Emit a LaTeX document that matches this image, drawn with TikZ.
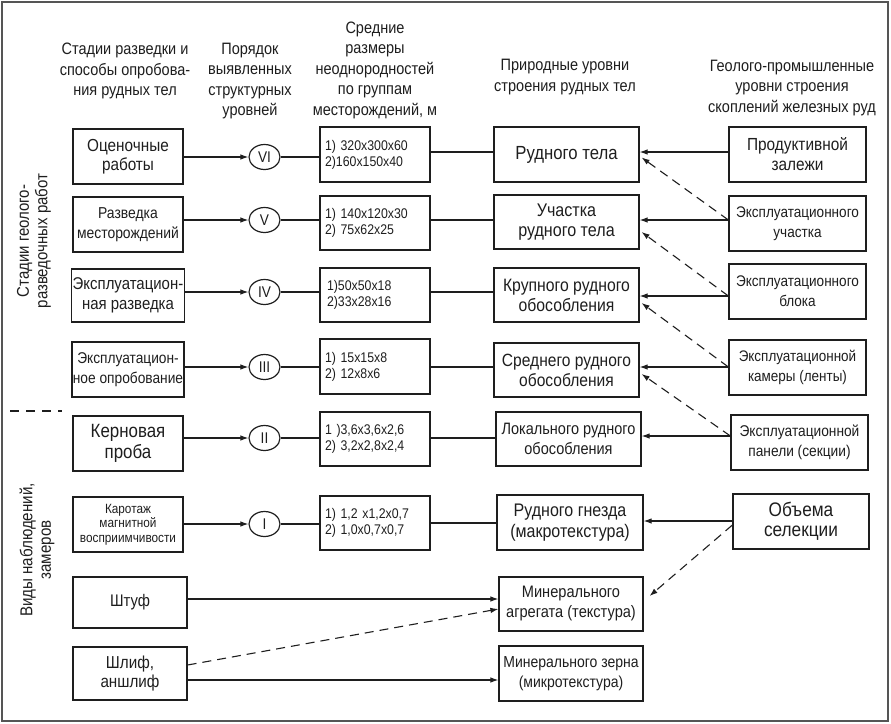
\documentclass[tikz,border=0pt]{standalone}
\usepackage{fontspec}
\setmainfont{Liberation Sans}[FakeStretch=0.88]
\usetikzlibrary{arrows.meta,shapes.geometric,calc}
\definecolor{ink}{RGB}{30,30,30}
\definecolor{framec}{RGB}{85,85,85}
\newcommand{\fs}[2]{\fontsize{#1}{#2}\selectfont}
\begin{document}
\begin{tikzpicture}[x=1pt,y=-1pt,
  every node/.style={text=ink},
  hdr/.style={align=center,font=\fs{16.5}{20.5}},
  box/.style={draw=ink,line width=1.2pt,inner sep=1pt,align=center,font=\fs{17}{19.5}},
  lbox/.style={box,minimum width=110pt,minimum height=55pt},
  sbox/.style={draw=ink,line width=1.2pt,inner xsep=5pt,inner ysep=1pt,text width=100pt,align=left,minimum height=54pt,font=\fs{14}{16}},
  nbox/.style={box,minimum width=145pt,minimum height=54pt},
  rbox/.style={box,minimum width=137pt,minimum height=55pt},
  lvl/.style={draw=ink,line width=1.2pt,ellipse,minimum width=31pt,minimum height=25pt,inner sep=0pt,font=\fs{15.5}{16}},
  ln/.style={draw=ink,line width=1.1pt},
  arr/.style={ln,-{Latex[length=8pt,width=5.5pt]}},
  darr/.style={arr,dash pattern=on 9pt off 6pt},
  dln/.style={ln,dash pattern=on 9pt off 7pt}
]
\useasboundingbox (0,0) rectangle (891,723);
\draw[framec,line width=2.6pt] (2,2) rectangle (888,721);

% headers
\node[hdr] (h1) at (125,71) {Стадии разведки и\\способы опробова-\\ния рудных тел};
\node[hdr] (h2) at (250,81) {Порядок\\выявленных\\структурных\\уровней};
\node[hdr] (h3) at (375,70) {Средние\\размеры\\неоднородностей\\по группам\\месторождений, м};
\node[hdr] (h4) at (565,77) {Природные уровни\\строения рудных тел};
\node[hdr] (h5) at (792,88) {Геолого-промышленные\\уровни строения\\скоплений железных руд};

% side labels
\node[hdr,rotate=90,font=\fs{17}{18.5}] (side1) at (34,241) {Стадии геолого-\\разведочных работ};
\node[hdr,rotate=90,font=\fs{17.2}{18.5}] (side2) at (37,550) {Виды наблюдений,\\замеров};
\coordinate (sepL) at (10,411);
\coordinate (sepR) at (62,411);
\draw[dln] (sepL) -- (sepR);

% left column
\node[lbox,font=\fs{17.4}{19}] (a1) at (128,156.5) {Оценочные\\работы};
\node[lbox,font=\fs{15.8}{20}] (a2) at (128,224.5) {Разведка\\месторождений};
\node[lbox,minimum height=53pt,font=\fs{17}{19.5}] (a3) at (128,295.5) {Эксплуатацион-\\ная разведка};
\node[lbox,font=\fs{15.6}{19.5}] (a4) at (128,369.5) {Эксплуатацион-\\ное опробование};
\node[lbox,font=\fs{19.2}{20.5}] (a5) at (128,443.5) {Керновая\\проба};
\node[lbox,font=\fs{13.4}{14.5}] (a6) at (128,524.5) {Каротаж\\магнитной\\восприимчивости};
\node[lbox,minimum width=114pt,minimum height=51pt,font=\fs{16.8}{20}] (a7) at (130,602.5) {Штуф};
\node[lbox,minimum width=114pt,minimum height=53pt,font=\fs{17.3}{19}] (a8) at (130,673.5) {Шлиф,\\аншлиф};

% level ellipses
\node[lvl] (c6) at (264.5,157) {VI};
\node[lvl] (c5) at (264.5,220) {V};
\node[lvl] (c4) at (264.5,292) {IV};
\node[lvl] (c3) at (264.5,367) {III};
\node[lvl] (c2) at (264.5,438) {II};
\node[lvl] (c1) at (264.5,524) {I};

% size boxes
\node[sbox,minimum height=55pt] (s6) at (375,154.5) {1) 320x300x60\\2)160x150x40};
\node[sbox] (s5) at (375,223) {1) 140x120x30\\2) 75x62x25};
\node[sbox] (s4) at (375,295) {\hspace*{2pt}1)50x50x18\\\hspace*{2pt}2)33x28x16};
\node[sbox,minimum height=55pt] (s3) at (375,366.5) {1) 15x15x8\\2) 12x8x6};
\node[sbox] (s2) at (375,439) {1 )3,6x3,6x2,6\\2) 3,2x2,8x2,4};
\node[sbox] (s1) at (375,523) {1) 1,2 x1,2x0,7\\2) 1,0x0,7x0,7};

% natural levels
\node[nbox,minimum height=55pt,font=\fs{19}{20}] (n6) at (566.5,154.5) {Рудного тела};
\node[nbox,font=\fs{18.3}{20}] (n5) at (566.5,222) {Участка\\рудного тела};
\node[nbox,font=\fs{17.9}{20}] (n4) at (566.5,295) {Крупного рудного\\обособления};
\node[nbox,font=\fs{17.7}{20}] (n3) at (566.5,370) {Среднего рудного\\обособления};
\node[nbox,font=\fs{16.5}{20}] (n2) at (568.5,439) {Локального рудного\\обособления};
\node[nbox,minimum width=146pt,minimum height=55pt,font=\fs{18.2}{20.5}] (n1) at (570,522.5) {Рудного гнезда\\(макротекстура)};
\node[nbox,minimum width=144pt,font=\fs{16.6}{20}] (m2) at (571,604) {Минерального\\агрегата (текстура)};
\node[nbox,minimum width=144pt,minimum height=55pt,font=\fs{15.9}{20}] (m1) at (571,673.5) {Минерального зерна\\(микротекстура)};

% geological-industrial levels
\node[rbox,font=\fs{17.5}{20}] (r6) at (797.5,154.5) {Продуктивной\\залежи};
\node[rbox,font=\fs{15.4}{20}] (r5) at (797.5,223.5) {Эксплуатационного\\участка};
\node[rbox,font=\fs{15.4}{20}] (r4) at (797.5,291.5) {Эксплуатационного\\блока};
\node[rbox,font=\fs{15.3}{20}] (r3) at (797.5,367.5) {Эксплуатационной\\камеры (ленты)};
\node[rbox,font=\fs{15.6}{20}] (r2) at (799.5,442.5) {Эксплуатационной\\панели (секции)};
\node[rbox,minimum width=136pt,font=\fs{19.6}{20.5}] (r1) at (801,521.5) {Объема\\селекции};

% row heights
\coordinate (y6) at (0,152);
\coordinate (y5) at (0,220);
\coordinate (y4) at (0,292);
\coordinate (y4r) at (0,296);
\coordinate (y3) at (0,367);
\coordinate (y2) at (0,438);
\coordinate (y2r) at (0,436);
\coordinate (y1) at (0,523);
\coordinate (y1r) at (0,521);
\coordinate (y1d) at (0,525);
\coordinate (yst) at (0,599);
\coordinate (ysh1) at (0,665);
\coordinate (ysh2) at (0,609);
\coordinate (ysh3) at (0,680);

% left boxes -> levels
\foreach \i in {1,...,6}{
  \draw[arr] (a\i.east |- c\i) -- (c\i.west);
  \draw[ln] (c\i.east) -- (s\i.west |- c\i);
}
% sizes -> natural
\draw[ln] (s6.east |- y6) -- (n6.west |- y6);
\draw[ln] (s5.east |- y5) -- (n5.west |- y5);
\draw[ln] (s4.east |- y4) -- (n4.west |- y4);
\draw[ln] (s3.east |- y3) -- (n3.west |- y3);
\draw[ln] (s2.east |- y2) -- (n2.west |- y2);
\draw[ln] (s1.east |- y1) -- (n1.west |- y1);

% right -> natural (solid)
\draw[arr] (r6.west |- y6) -- (n6.east |- y6);
\draw[arr] (r5.west |- y5) -- (n5.east |- y5);
\draw[arr] (r4.west |- y4r) -- (n4.east |- y4r);
\draw[arr] (r3.west |- y3) -- (n3.east |- y3);
\draw[arr] (r2.west |- y2r) -- (n2.east |- y2r);
\draw[arr] (r1.west |- y1r) -- (n1.east |- y1r);

% right -> natural (dashed, one level up)
\draw[darr] (r5.west |- y5) -- ($(n6.east)+(2,3)$);
\draw[darr] (r4.west |- y4r) -- ($(n5.east)+(2,10)$);
\draw[darr] (r3.west |- y3) -- ($(n4.east)+(2,8)$);
\draw[darr] (r2.west |- y2r) -- ($(n3.east)+(2,4)$);
\draw[darr] (r1.west |- y1d) -- ($(m2.east)+(6,-8)$);

% bottom samples
\draw[arr] (a7.east |- yst) -- (m2.west |- yst);
\draw[darr] (a8.east |- ysh1) -- (m2.west |- ysh2);
\draw[arr] (a8.east |- ysh3) -- (m1.west |- ysh3);
\end{tikzpicture}
\end{document}
